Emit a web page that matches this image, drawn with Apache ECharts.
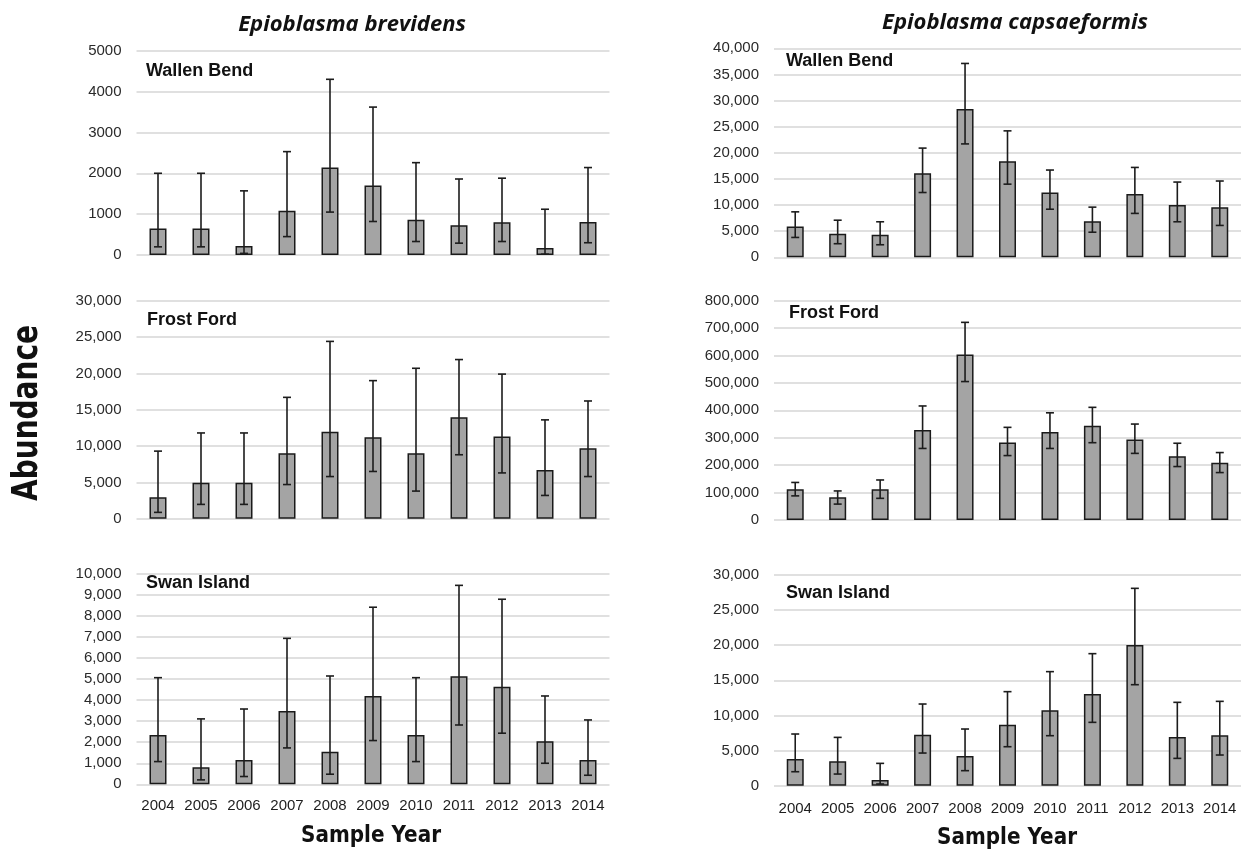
<!DOCTYPE html>
<html>
<head>
<meta charset="utf-8">
<style>
  html, body { margin: 0; padding: 0; background: #ffffff; }
  #chart { width: 1241px; height: 852px; }
</style>
<script src="https://cdn.jsdelivr.net/npm/echarts@6/dist/echarts.min.js"></script>
</head>
<body>
<div id="chart"></div>
<script>
// Sample years shared by every panel
const years = ['2004', '2005', '2006', '2007', '2008', '2009', '2010', '2011', '2012', '2013', '2014'];

// Epioblasma brevidens — Wallen Bend (mean, lower and upper bounds)
const brevWallenMean = [650, 650, 220, 1080, 2140, 1700, 860, 730, 800, 170, 810];
const brevWallenLow  = [200, 200, 40, 450, 1050, 820, 330, 290, 330, 20, 300];
const brevWallenHigh = [2000, 2000, 1570, 2530, 4300, 3620, 2260, 1860, 1880, 1120, 2140];

// Epioblasma capsaeformis — Wallen Bend
const capsWallenMean = [5900, 4500, 4300, 16100, 28400, 18400, 12400, 6900, 12100, 10000, 9600];
const capsWallenLow  = [3800, 2600, 2400, 12400, 21700, 14000, 9200, 4800, 8400, 6800, 6100];
const capsWallenHigh = [8700, 7100, 6800, 20900, 37100, 24200, 16700, 9600, 17200, 14400, 14600];

// Epioblasma brevidens — Frost Ford
const brevFrostMean = [2950, 4950, 4950, 9000, 11950, 11200, 9000, 13950, 11300, 6700, 9700];
const brevFrostLow  = [870, 1970, 1970, 4700, 5800, 6500, 3800, 8800, 6300, 3200, 5800];
const brevFrostHigh = [9300, 11800, 11800, 16700, 24400, 19000, 20700, 21900, 19900, 13600, 16200];

// Epioblasma capsaeformis — Frost Ford
const capsFrostMean = [112000, 83000, 112000, 328000, 604000, 283000, 321000, 344000, 294000, 233000, 209000];
const capsFrostLow  = [88000, 58000, 79000, 261000, 505000, 235000, 261000, 282000, 243000, 195000, 173000];
const capsFrostHigh = [137000, 106000, 146000, 416000, 721000, 338000, 391000, 411000, 350000, 280000, 246000];

// Epioblasma brevidens — Swan Island
const brevSwanMean = [2350, 810, 1160, 3490, 1550, 4200, 2350, 5140, 4640, 2050, 1160];
const brevSwanLow  = [1080, 210, 370, 1730, 480, 2080, 1080, 2820, 2430, 1000, 430];
const brevSwanHigh = [5070, 3110, 3580, 6940, 5150, 8420, 5070, 9460, 8800, 4200, 3060];

// Epioblasma capsaeformis — Swan Island
const capsSwanMean = [3800, 3470, 810, 7260, 4230, 8690, 10730, 13050, 20030, 6930, 7170];
const capsSwanLow  = [1990, 1660, 240, 4650, 2140, 5550, 7120, 9020, 14380, 3890, 4370];
const capsSwanHigh = [7360, 6880, 3180, 11630, 8070, 13390, 16240, 18800, 28100, 11870, 12010];

// Axis ranges per panel
const yMaxes      = [5000, 40000, 30000, 800000, 10000, 30000];
const yIntervals  = [1000, 5000, 5000, 100000, 1000, 5000];
const useCommas   = [false, true, true, true, true, true];

// Panel labels and headings
const siteNames = ['Wallen Bend', 'Wallen Bend', 'Frost Ford', 'Frost Ford', 'Swan Island', 'Swan Island'];
const speciesTitles = ['Epioblasma brevidens', 'Epioblasma capsaeformis'];
const yAxisTitle = 'Abundance';
const xAxisTitle = 'Sample Year';

const panels = [
  { mean: brevWallenMean, low: brevWallenLow, high: brevWallenHigh },
  { mean: capsWallenMean, low: capsWallenLow, high: capsWallenHigh },
  { mean: brevFrostMean,  low: brevFrostLow,  high: brevFrostHigh },
  { mean: capsFrostMean,  low: capsFrostLow,  high: capsFrostHigh },
  { mean: brevSwanMean,   low: brevSwanLow,   high: brevSwanHigh },
  { mean: capsSwanMean,   low: capsSwanLow,   high: capsSwanHigh }
];

// Plot-area boxes (left, top, width, height) in pixels
const LEFT_X = 136.5, LEFT_W = 473;
const RIGHT_X = 774, RIGHT_W = 467.5;
const boxes = [
  { left: LEFT_X,  top: 50.7,  width: LEFT_W,  height: 204.3 },
  { left: RIGHT_X, top: 48.3,  width: RIGHT_W, height: 209 },
  { left: LEFT_X,  top: 300.7, width: LEFT_W,  height: 218 },
  { left: RIGHT_X, top: 300.7, width: RIGHT_W, height: 219.3 },
  { left: LEFT_X,  top: 574,   width: LEFT_W,  height: 210.3 },
  { left: RIGHT_X, top: 575,   width: RIGHT_W, height: 210.7 }
];
const siteLabelPos = [
  [146, 71], [786, 61], [147, 320], [789, 313], [146, 583], [786, 593]
];

const chart = echarts.init(document.getElementById('chart'), null, { renderer: 'canvas' });

const grids = [], xAxes = [], yAxes = [], series = [];

// Vertical whisker with flat caps at the lower and upper bound
function errorBarItem(params, api) {
  const idx = api.value(0);
  const pLo = api.coord([idx, api.value(1)]);
  const pHi = api.coord([idx, api.value(2)]);
  const hw = 4;
  const st = { stroke: '#1c1c1c', lineWidth: 1.6 };
  return {
    type: 'group',
    children: [
      { type: 'line', shape: { x1: pLo[0], y1: pLo[1], x2: pHi[0], y2: pHi[1] }, style: st },
      { type: 'line', shape: { x1: pHi[0] - hw, y1: pHi[1], x2: pHi[0] + hw, y2: pHi[1] }, style: st },
      { type: 'line', shape: { x1: pLo[0] - hw, y1: pLo[1], x2: pLo[0] + hw, y2: pLo[1] }, style: st }
    ]
  };
}

panels.forEach((p, i) => {
  const isBottom = i >= 4;
  grids.push(Object.assign({ containLabel: false }, boxes[i]));
  xAxes.push({
    type: 'category',
    gridIndex: i,
    data: years,
    axisLine: { show: false },
    axisTick: { show: false },
    axisLabel: {
      show: isBottom,
      interval: 0,
      hideOverlap: false,
      margin: i === 5 ? 16 : 14,
      fontFamily: 'Liberation Sans',
      fontSize: 15,
      color: '#1e1e1e'
    }
  });
  yAxes.push({
    type: 'value',
    gridIndex: i,
    min: 0,
    max: yMaxes[i],
    interval: yIntervals[i],
    axisLine: { show: false },
    axisTick: { show: false },
    splitLine: { lineStyle: { color: '#d6d6d6', width: 1.5 } },
    axisLabel: {
      margin: 15,
      fontFamily: 'Liberation Sans',
      fontSize: 15,
      color: '#2a2a2a',
      formatter: v => useCommas[i] ? v.toLocaleString('en-US') : String(v)
    }
  });
  series.push({
    type: 'bar',
    xAxisIndex: i,
    yAxisIndex: i,
    data: p.mean,
    barWidth: 17,
    itemStyle: { color: '#a4a4a4', borderColor: '#1a1a1a', borderWidth: 1.5 },
    silent: true,
    z: 2
  });
  series.push({
    type: 'custom',
    xAxisIndex: i,
    yAxisIndex: i,
    renderItem: errorBarItem,
    encode: { x: 0, y: [1, 2] },
    data: years.map((_, k) => [k, p.low[k], p.high[k]]),
    silent: true,
    z: 3
  });
});

const graphics = [];
// species headings
graphics.push({
  type: 'text',
  style: { text: speciesTitles[0], font: 'italic bold 22px "Open Sans"', fill: '#111', textAlign: 'center', textVerticalAlign: 'middle' },
  position: [352, 25]
});
graphics.push({
  type: 'text',
  style: { text: speciesTitles[1], font: 'italic bold 22px "Open Sans"', fill: '#111', textAlign: 'center', textVerticalAlign: 'middle' },
  position: [1015, 23]
});
// site names inside each panel
siteNames.forEach((name, i) => {
  graphics.push({
    type: 'text',
    style: { text: name, font: 'bold 18px "Liberation Sans"', fill: '#111', textAlign: 'left', textVerticalAlign: 'middle' },
    position: siteLabelPos[i]
  });
});
// shared axis titles
graphics.push({
  type: 'text',
  rotation: Math.PI / 2,
  scaleY: 1.25,
  style: { text: yAxisTitle, font: 'bold 28px "DejaVu Sans"', fill: '#111', textAlign: 'center', textVerticalAlign: 'middle' },
  position: [28, 413]
});
graphics.push({
  type: 'text',
  scaleY: 1.12,
  style: { text: xAxisTitle, font: 'bold 20px "DejaVu Sans"', fill: '#111', textAlign: 'center', textVerticalAlign: 'middle' },
  position: [371, 836]
});
graphics.push({
  type: 'text',
  scaleY: 1.12,
  style: { text: xAxisTitle, font: 'bold 20px "DejaVu Sans"', fill: '#111', textAlign: 'center', textVerticalAlign: 'middle' },
  position: [1007, 838]
});

chart.setOption({
  backgroundColor: '#ffffff',
  animation: false,
  grid: grids,
  xAxis: xAxes,
  yAxis: yAxes,
  series: series,
  graphic: graphics
});
</script>
</body>
</html>
